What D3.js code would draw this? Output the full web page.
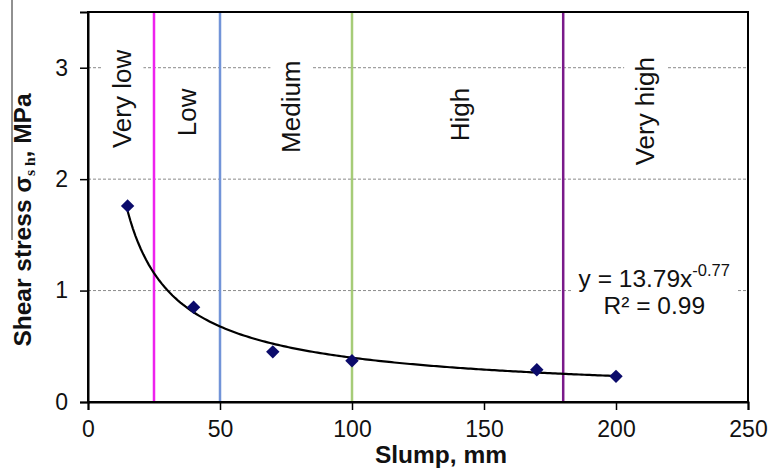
<!DOCTYPE html>
<html>
<head>
<meta charset="utf-8">
<script src="https://cdn.jsdelivr.net/npm/d3@7/dist/d3.min.js"></script>
<style>
  html, body { margin: 0; padding: 0; background: #fff; }
  svg { display: block; font-family: Arial, "Liberation Sans", sans-serif; }
</style>
</head>
<body>
<svg id="chart" width="771" height="474"></svg>
<script>
// Measured slump (mm) and shear stress (MPa)
const slump = [15, 40, 70, 100, 170, 200];
const shearStress = [1.76, 0.85, 0.45, 0.37, 0.29, 0.23];

// Power-law fit y = a * x^b
const fitA = 13.79;
const fitB = -0.77;
const fitR2 = 0.99;

// Workability class boundaries (mm)
const boundaries = [25, 50, 100, 180];
const boundaryColors = ["#ee22ee", "#7294d8", "#a6cc78", "#7a1a8a"];

// Workability class names
const classes = ["Very low", "Low", "Medium", "High", "Very high"];

const xTicks = [0, 50, 100, 150, 200, 250];
const yTicks = [0, 1, 2, 3];

// Where each class name sits, in axis units
const classLabelPos = [
  { x: 13, y: 2.72 }, { x: 37.5, y: 2.6 }, { x: 77, y: 2.65 },
  { x: 141, y: 2.58 }, { x: 211, y: 2.61 }
];

const W = 771, H = 474;
const margin = { top: 12, right: 23, bottom: 72, left: 88 };
const svg = d3.select("#chart");
const FONT = "Arial, 'Liberation Sans', sans-serif";

const x = d3.scaleLinear().domain([0, 250]).range([margin.left, W - margin.right]);
const y = d3.scaleLinear().domain([0, 3.5]).range([H - margin.bottom, margin.top]);

// Horizontal dashed gridlines
svg.append("g")
  .selectAll("line")
  .data(yTicks.filter(d => d > 0))
  .join("line")
  .attr("x1", x(0)).attr("x2", x(250))
  .attr("y1", d => y(d)).attr("y2", d => y(d))
  .attr("stroke", "#8a8a8a")
  .attr("stroke-width", 1)
  .attr("stroke-dasharray", "3,2");

// Class labels with white backing (they break the gridlines)
const labelG = svg.append("g");
classes.forEach((name, i) => {
  const p = classLabelPos[i];
  const g = labelG.append("g")
    .attr("transform", `translate(${x(p.x)},${y(p.y)}) rotate(-90)`);
  const t = g.append("text")
    .attr("text-anchor", "middle")
    .attr("dy", "0.35em")
    .attr("font-size", 26)
    .attr("fill", "#111")
    .text(name);
  const bb = t.node().getBBox();
  g.insert("rect", "text")
    .attr("x", bb.x - 6).attr("y", bb.y - 6)
    .attr("width", bb.width + 12).attr("height", bb.height + 12)
    .attr("fill", "#fff");
});

// Class boundary lines
svg.append("g")
  .selectAll("line")
  .data(boundaries)
  .join("line")
  .attr("x1", d => x(d)).attr("x2", d => x(d))
  .attr("y1", y(0)).attr("y2", y(3.5))
  .attr("stroke", (d, i) => boundaryColors[i])
  .attr("stroke-width", 2.5);

// Fit equation with white backing
const eqG = svg.append("g").attr("transform", `translate(${x(214.5)},0)`);
const eq = eqG.append("text")
  .attr("text-anchor", "middle")
  .attr("font-size", 24.5)
  .attr("fill", "#111");
eq.append("tspan").attr("x", 0).attr("y", 287).text(`y = ${fitA}x`);
eq.append("tspan").attr("font-size", 16.5).attr("dy", -11).text(fitB.toFixed(2));
eq.append("tspan").attr("x", 0).attr("y", 314).text(`R² = ${fitR2}`);
const ebb = eq.node().getBBox();
eqG.insert("rect", "text")
  .attr("x", ebb.x - 6).attr("y", ebb.y)
  .attr("width", ebb.width + 12).attr("height", ebb.height)
  .attr("fill", "#fff");

// Fitted curve
const fitX = d3.range(d3.min(slump), d3.max(slump) + 0.5, 1);
svg.append("path")
  .datum(fitX)
  .attr("fill", "none")
  .attr("stroke", "#000")
  .attr("stroke-width", 2.2)
  .attr("d", d3.line().x(d => x(d)).y(d => y(fitA * Math.pow(d, fitB))));

// Data markers
svg.append("g")
  .selectAll("path")
  .data(slump.map((s, i) => [s, shearStress[i]]))
  .join("path")
  .attr("transform", d => `translate(${x(d[0])},${y(d[1])})`)
  .attr("d", d3.symbol().type(d3.symbolDiamond2).size(115))
  .attr("fill", "#0b0b6b");

// Plot frame
svg.append("rect")
  .attr("x", x(0)).attr("y", y(3.5))
  .attr("width", x(250) - x(0)).attr("height", y(0) - y(3.5))
  .attr("fill", "none").attr("stroke", "#000").attr("stroke-width", 2);

// Axes
const xAxis = svg.append("g")
  .attr("transform", `translate(0,${y(0)})`)
  .call(d3.axisBottom(x).tickValues(xTicks).tickFormat(d3.format("d"))
    .tickSize(8).tickPadding(11));
const yAxis = svg.append("g")
  .attr("transform", `translate(${x(0)},0)`)
  .call(d3.axisLeft(y).tickValues(yTicks).tickFormat(d3.format("d"))
    .tickSize(8).tickPadding(12));
[xAxis, yAxis].forEach(a => {
  a.select(".domain").attr("stroke", "#000").attr("stroke-width", 2);
  a.selectAll(".tick line").attr("stroke", "#000").attr("stroke-width", 1.5);
  a.selectAll(".tick text").attr("font-size", 23).attr("fill", "#111")
    .attr("font-family", FONT);
});

// Axis titles
svg.append("text")
  .attr("x", 441).attr("y", 463)
  .attr("text-anchor", "middle")
  .attr("font-size", 24.5).attr("font-weight", "bold")
  .attr("fill", "#111")
  .text("Slump, mm");

const yt = svg.append("text")
  .attr("transform", "translate(31,220) rotate(-90)")
  .attr("text-anchor", "middle")
  .attr("font-size", 24.5).attr("font-weight", "bold")
  .attr("fill", "#111");
yt.append("tspan").text("Shear stress σ");
yt.append("tspan").attr("font-size", 15.5).attr("dy", 4)
  .attr("font-family", "'Liberation Serif', serif").text("s h");
yt.append("tspan").attr("dy", -4).text(", MPa");

// Thin rule left of the y title
svg.append("line")
  .attr("x1", 12).attr("x2", 12).attr("y1", 0).attr("y2", 240)
  .attr("stroke", "#222").attr("stroke-width", 1);
</script>
</body>
</html>
